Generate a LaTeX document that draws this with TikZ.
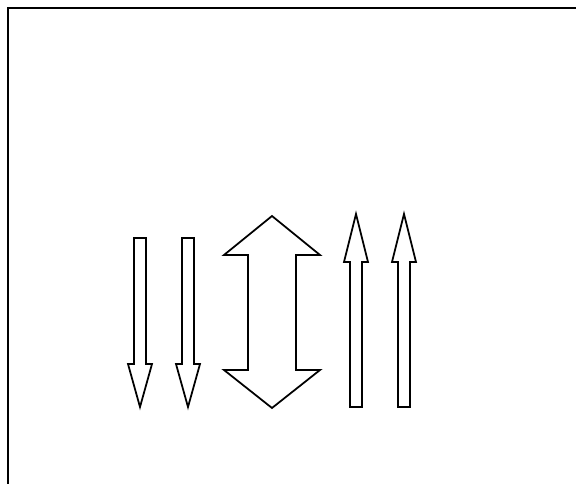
\documentclass[tikz,border=0pt]{standalone}
\usepackage{tikz}

\begin{document}
\begin{tikzpicture}[
    x=0.02cm, y=-0.02cm,
    frm/.style={line width=1.1pt},
    arr/.style={draw, line width=1pt, line join=miter, fill=white},
  ]
  \useasboundingbox (0,0) rectangle (576,484);
  % frame
  \draw[frm] (8,484) -- (8,8) -- (576,8);
  % down arrows
  \draw[arr] (134,238) -- (146,238) -- (146,364) -- (152,364) -- (140,407)
             -- (128,364) -- (134,364) -- cycle;
  \draw[arr] (182,238) -- (194,238) -- (194,364) -- (200,364) -- (188,407)
             -- (176,364) -- (182,364) -- cycle;
  % double arrow
  \draw[arr] (272,216) -- (320,255) -- (296,255) -- (296,370) -- (320,370)
             -- (272,408) -- (224,370) -- (248,370) -- (248,255) -- (224,255) -- cycle;
  % up arrows
  \draw[arr] (350,407) -- (362,407) -- (362,262) -- (368,262) -- (356,214)
             -- (344,262) -- (350,262) -- cycle;
  \draw[arr] (398,407) -- (410,407) -- (410,262) -- (416,262) -- (404,214)
             -- (392,262) -- (398,262) -- cycle;
\end{tikzpicture}
\end{document}
